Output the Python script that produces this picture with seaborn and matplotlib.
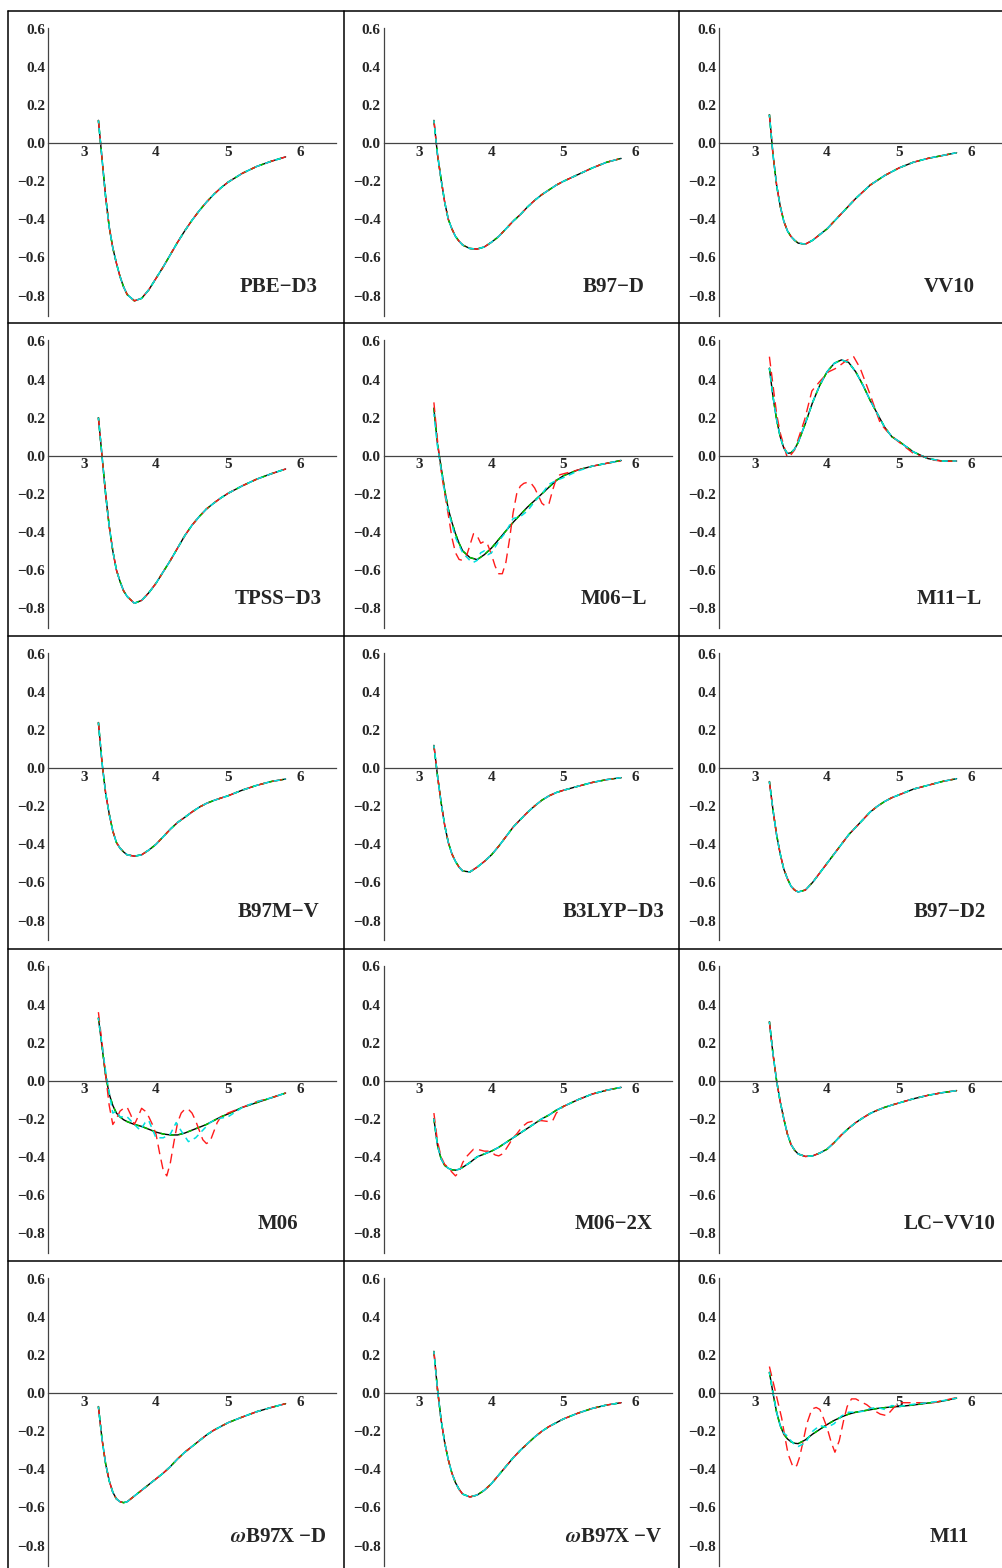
import matplotlib
matplotlib.use('Agg')
import matplotlib.pyplot as plt
from matplotlib.lines import Line2D
from matplotlib.ticker import MultipleLocator, FixedLocator, FuncFormatter
import seaborn as sns

# separation grid (Angstrom) shared by the reference curves
r = [3.2, 3.25, 3.3, 3.35, 3.4, 3.45, 3.5, 3.55, 3.6, 3.7, 3.8, 3.9, 4.0, 4.1,
     4.2, 4.3, 4.4, 4.5, 4.6, 4.7, 4.8, 4.9, 5.0, 5.2, 5.4, 5.6, 5.8]

# reference interaction energies per functional
pbe_d3 = [0.12, -0.08, -0.28, -0.44, -0.55, -0.63, -0.70, -0.755, -0.795, -0.828, -0.815, -0.77, -0.71, -0.65,
          -0.585, -0.52, -0.46, -0.405, -0.355, -0.31, -0.27, -0.235, -0.205, -0.158, -0.122, -0.095, -0.072]
b97_d = [0.12, -0.06, -0.19, -0.31, -0.40, -0.45, -0.49, -0.515, -0.535, -0.553, -0.556, -0.545, -0.52, -0.49,
         -0.45, -0.41, -0.375, -0.335, -0.30, -0.27, -0.245, -0.22, -0.20, -0.165, -0.13, -0.10, -0.08]
vv10 = [0.15, -0.06, -0.22, -0.33, -0.41, -0.46, -0.49, -0.51, -0.525, -0.53, -0.51, -0.48, -0.45, -0.41,
        -0.37, -0.33, -0.29, -0.255, -0.22, -0.195, -0.17, -0.15, -0.13, -0.10, -0.08, -0.065, -0.05]
tpss_d3 = [0.20, 0.0, -0.2, -0.37, -0.50, -0.60, -0.66, -0.71, -0.74, -0.775, -0.76, -0.72, -0.67, -0.61,
           -0.55, -0.485, -0.42, -0.365, -0.32, -0.28, -0.25, -0.222, -0.198, -0.158, -0.123, -0.095, -0.07]
m06_l = [0.25, 0.06, -0.06, -0.18, -0.28, -0.35, -0.41, -0.46, -0.50, -0.535, -0.546, -0.52, -0.485, -0.44,
         -0.395, -0.35, -0.31, -0.27, -0.235, -0.20, -0.165, -0.13, -0.105, -0.075, -0.055, -0.04, -0.025]
m11_l = [0.46, 0.31, 0.19, 0.10, 0.04, 0.012, 0.015, 0.035, 0.07, 0.17, 0.28, 0.37, 0.44, 0.485,
         0.503, 0.49, 0.44, 0.37, 0.29, 0.22, 0.15, 0.10, 0.075, 0.02, -0.015, -0.028, -0.028]
b97m_v = [0.24, 0.03, -0.13, -0.24, -0.33, -0.39, -0.42, -0.44, -0.455, -0.462, -0.455, -0.43, -0.40, -0.36,
          -0.32, -0.285, -0.258, -0.23, -0.205, -0.185, -0.17, -0.157, -0.145, -0.115, -0.09, -0.07, -0.057]
b3lyp_d3 = [0.12, -0.04, -0.18, -0.30, -0.39, -0.45, -0.49, -0.52, -0.54, -0.545, -0.52, -0.49, -0.455, -0.41,
            -0.36, -0.31, -0.27, -0.232, -0.198, -0.168, -0.145, -0.128, -0.116, -0.095, -0.075, -0.06, -0.05]
b97_d2 = [-0.07, -0.22, -0.35, -0.45, -0.53, -0.58, -0.62, -0.64, -0.65, -0.64, -0.60, -0.55, -0.50, -0.45,
          -0.40, -0.35, -0.31, -0.27, -0.23, -0.20, -0.175, -0.155, -0.14, -0.11, -0.09, -0.07, -0.055]
m06 = [0.33, 0.18, 0.03, -0.07, -0.13, -0.17, -0.19, -0.205, -0.215, -0.23, -0.24, -0.255, -0.27, -0.28,
       -0.285, -0.285, -0.275, -0.26, -0.245, -0.23, -0.21, -0.19, -0.175, -0.14, -0.115, -0.09, -0.065]
m06_2x = [-0.20, -0.34, -0.41, -0.445, -0.46, -0.468, -0.47, -0.465, -0.455, -0.43, -0.40, -0.385, -0.37, -0.35,
          -0.325, -0.30, -0.275, -0.25, -0.225, -0.20, -0.18, -0.155, -0.135, -0.10, -0.07, -0.05, -0.035]
lc_vv10 = [0.31, 0.14, 0.0, -0.11, -0.20, -0.28, -0.335, -0.365, -0.385, -0.398, -0.395, -0.38, -0.36, -0.325,
           -0.285, -0.25, -0.22, -0.195, -0.172, -0.155, -0.14, -0.128, -0.117, -0.095, -0.077, -0.063, -0.052]
wb97x_d = [-0.07, -0.24, -0.37, -0.46, -0.52, -0.555, -0.57, -0.575, -0.57, -0.54, -0.51, -0.48, -0.45, -0.42,
           -0.385, -0.345, -0.31, -0.28, -0.25, -0.22, -0.195, -0.175, -0.155, -0.125, -0.097, -0.075, -0.055]
wb97x_v = [0.22, 0.02, -0.14, -0.26, -0.35, -0.42, -0.47, -0.505, -0.53, -0.545, -0.535, -0.51, -0.475, -0.43,
           -0.385, -0.34, -0.30, -0.265, -0.23, -0.20, -0.175, -0.155, -0.135, -0.105, -0.08, -0.062, -0.05]
m11 = [0.11, 0.0, -0.10, -0.17, -0.215, -0.24, -0.255, -0.263, -0.265, -0.245, -0.215, -0.19, -0.165, -0.143,
       -0.125, -0.11, -0.10, -0.093, -0.087, -0.08, -0.076, -0.072, -0.07, -0.062, -0.052, -0.042, -0.026]

# oscillating fitted curves (red / cyan) where they leave the reference
r_fine = [3.2, 3.25, 3.3, 3.35, 3.4, 3.45, 3.5, 3.55, 3.6, 3.65, 3.7, 3.75, 3.8, 3.85, 3.9, 3.95, 4.0,
          4.05, 4.1, 4.15, 4.2, 4.25, 4.3, 4.35, 4.4, 4.45, 4.5, 4.55, 4.6, 4.65, 4.7, 4.75, 4.8, 4.85,
          4.9, 4.95, 5.0, 5.1, 5.2, 5.4, 5.6, 5.8]
m06_l_red = [0.28, 0.08, -0.08, -0.20, -0.31, -0.43, -0.51, -0.545, -0.55, -0.53, -0.47, -0.41, -0.42, -0.46,
             -0.45, -0.47, -0.52, -0.58, -0.62, -0.62, -0.56, -0.44, -0.30, -0.20, -0.16, -0.145, -0.14,
             -0.145, -0.17, -0.21, -0.25, -0.265, -0.25, -0.18, -0.12, -0.10, -0.095, -0.085, -0.075,
             -0.055, -0.04, -0.028]
m06_red = [0.36, 0.20, 0.03, -0.13, -0.23, -0.20, -0.16, -0.145, -0.14, -0.18, -0.23, -0.19, -0.145, -0.16,
           -0.19, -0.23, -0.28, -0.38, -0.47, -0.50, -0.43, -0.32, -0.22, -0.17, -0.15, -0.15, -0.17,
           -0.21, -0.26, -0.31, -0.33, -0.32, -0.27, -0.22, -0.19, -0.18, -0.17, -0.155, -0.14, -0.11,
           -0.09, -0.065]

m06_l_cyan_r = [3.2, 3.25, 3.3, 3.35, 3.4, 3.5, 3.6, 3.7, 3.75, 3.8, 3.85, 3.9, 3.95, 4.0, 4.1, 4.2, 4.3,
                4.4, 4.5, 4.6, 4.7, 4.8, 4.9, 5.0, 5.2, 5.4, 5.6, 5.8]
m06_l_cyan = [0.22, 0.05, -0.07, -0.19, -0.29, -0.43, -0.51, -0.55, -0.56, -0.55, -0.51, -0.50, -0.52, -0.51,
              -0.45, -0.40, -0.33, -0.32, -0.29, -0.24, -0.20, -0.15, -0.13, -0.115, -0.08, -0.055, -0.04, -0.025]

m06_cyan_r = [3.2, 3.3, 3.35, 3.4, 3.45, 3.5, 3.6, 3.7, 3.78, 3.85, 3.9, 4.0, 4.1, 4.2, 4.28, 4.36, 4.45,
              4.55, 4.65, 4.75, 4.85, 5.0, 5.2, 5.4, 5.6, 5.8]
m06_cyan = [0.33, 0.05, -0.06, -0.17, -0.16, -0.19, -0.19, -0.23, -0.26, -0.22, -0.21, -0.30, -0.30, -0.28,
            -0.22, -0.27, -0.32, -0.30, -0.26, -0.22, -0.20, -0.19, -0.14, -0.11, -0.09, -0.065]

m06_2x_red_r = [3.2, 3.25, 3.3, 3.35, 3.4, 3.45, 3.5, 3.55, 3.6, 3.65, 3.7, 3.75, 3.8, 3.9, 3.95, 4.0, 4.05,
                4.1, 4.15, 4.2, 4.25, 4.3, 4.35, 4.4, 4.45, 4.5, 4.6, 4.7, 4.8, 4.85, 4.9, 5.0, 5.2, 5.4, 5.6, 5.8]
m06_2x_red = [-0.17, -0.32, -0.40, -0.44, -0.455, -0.48, -0.50, -0.48, -0.43, -0.40, -0.38, -0.36, -0.36, -0.37,
              -0.37, -0.375, -0.39, -0.395, -0.385, -0.36, -0.33, -0.30, -0.28, -0.255, -0.235, -0.22, -0.21,
              -0.21, -0.215, -0.21, -0.17, -0.135, -0.10, -0.07, -0.05, -0.035]

m11_l_red_r = [3.2, 3.3, 3.35, 3.44, 3.47, 3.55, 3.69, 3.79, 3.9, 4.02, 4.13, 4.27, 4.37, 4.46, 4.6, 4.74,
               4.83, 4.97, 5.2, 5.48, 5.62, 5.8]
m11_l_red = [0.52, 0.22, 0.12, 0.0, -0.01, 0.03, 0.19, 0.34, 0.39, 0.44, 0.46, 0.50, 0.52, 0.46, 0.32, 0.17,
             0.13, 0.08, 0.012, -0.023, -0.03, -0.028]

m11_red_r = [3.2, 3.27, 3.32, 3.37, 3.42, 3.46, 3.53, 3.58, 3.62, 3.67, 3.72, 3.79, 3.85, 3.9, 3.95, 4.0,
             4.06, 4.11, 4.17, 4.23, 4.28, 4.34, 4.4, 4.47, 4.55, 4.65, 4.74, 4.83, 4.93, 5.02, 5.2, 5.48, 5.8]
m11_red = [0.14, 0.03, -0.05, -0.13, -0.24, -0.32, -0.39, -0.38, -0.335, -0.25, -0.16, -0.083, -0.075, -0.085,
           -0.13, -0.18, -0.26, -0.31, -0.25, -0.145, -0.07, -0.03, -0.03, -0.045, -0.06, -0.09, -0.11, -0.118,
           -0.075, -0.05, -0.05, -0.05, -0.023]
m11_cyan = [0.11, 0.0, -0.10, -0.17, -0.21, -0.225, -0.25, -0.27, -0.28, -0.26, -0.20, -0.17, -0.18, -0.16,
            -0.12, -0.10, -0.10, -0.095, -0.08, -0.075, -0.085, -0.065, -0.07, -0.058, -0.05, -0.04, -0.026]

names = ['PBE\u2212D3', 'B97\u2212D', 'VV10',
         'TPSS\u2212D3', 'M06\u2212L', 'M11\u2212L',
         'B97M\u2212V', 'B3LYP\u2212D3', 'B97\u2212D2',
         'M06', 'M06\u22122X', 'LC\u2212VV10',
         '$\\omega$B97X \u2212D', '$\\omega$B97X \u2212V', 'M11']
ref = [pbe_d3, b97_d, vv10, tpss_d3, m06_l, m11_l, b97m_v, b3lyp_d3, b97_d2,
       m06, m06_2x, lc_vv10, wb97x_d, wb97x_v, m11]
red = {4: (r_fine, m06_l_red), 5: (m11_l_red_r, m11_l_red), 9: (r_fine, m06_red),
       10: (m06_2x_red_r, m06_2x_red), 14: (m11_red_r, m11_red)}
cyan = {4: (m06_l_cyan_r, m06_l_cyan), 9: (m06_cyan_r, m06_cyan), 14: (r, m11_cyan)}

sns.set_style('white')
plt.rcParams['font.family'] = ['Liberation Serif', 'DejaVu Serif']
plt.rcParams['font.weight'] = 'bold'
plt.rcParams['mathtext.fontset'] = 'stix'

W, H = 1002, 1568
fig = plt.figure(figsize=(W / 100, H / 100), dpi=100)


def curve(ax, x, y, color, ls, lw):
    sns.lineplot(x=x, y=y, ax=ax, color=color, linestyle=ls, linewidth=lw,
                 sort=False, estimator=None, legend=False)


for i, name in enumerate(names):
    row, col = divmod(i, 3)
    left = 48 + 335.5 * col
    top = 28 + 312.5 * row
    ax = fig.add_axes([left / W, 1 - (top + 287.5) / H, 288 / W, 287.5 / H])
    ax.patch.set_visible(False)

    y0 = ref[i]
    curve(ax, r, y0, 'black', '-', 1.0)
    curve(ax, r, y0, '#00c000', (0, (3, 3)), 1.1)
    rx, ry = red.get(i, (r, y0))
    curve(ax, rx, ry, '#ff1a1a', (0, (7, 4)), 1.0)
    cx, cy = cyan.get(i, (r, y0))
    curve(ax, cx, cy, '#00e0e0', (2, (4, 3)), 1.1)

    ax.set_xlim(2.5, 6.5)
    ax.set_ylim(-0.905, 0.605)
    for s in ('top', 'right'):
        ax.spines[s].set_visible(False)
    ax.spines['bottom'].set_position(('data', 0))
    for s in ('left', 'bottom'):
        ax.spines[s].set_color('#444444')
        ax.spines[s].set_linewidth(0.9)

    ax.xaxis.set_major_locator(FixedLocator([3, 4, 5, 6]))
    ax.xaxis.set_minor_locator(MultipleLocator(0.2))
    ax.yaxis.set_major_locator(MultipleLocator(0.2))
    ax.yaxis.set_minor_locator(MultipleLocator(0.05))
    ax.xaxis.set_major_formatter(FuncFormatter(lambda v, p: f'{v:.0f}'))
    ax.yaxis.set_major_formatter(FuncFormatter(
        lambda v, p: '0.0' if abs(v) < 1e-9 else f'{v:.1f}'.replace('-', '\u2212')))
    ax.tick_params(which='major', direction='in', length=3, width=0.8, color='#444444',
                   labelsize=11, pad=2)
    ax.tick_params(which='minor', direction='in', length=1.5, width=0.6, color='#444444')
    ax.set_xlabel('')
    ax.set_ylabel('')

    ax.text(5.7, -0.755, name, ha='center', va='center', fontsize=15, fontweight='bold')

# panel frame
for x in (8, 344, 679):
    fig.add_artist(Line2D([x / W, x / W], [1 - 11 / H, 0], transform=fig.transFigure,
                          color='black', lw=1.1))
for y in (11, 323, 636, 949, 1261):
    fig.add_artist(Line2D([8 / W, 1], [1 - y / H, 1 - y / H], transform=fig.transFigure,
                          color='black', lw=1.1))

fig.savefig('out.png', dpi=100)
